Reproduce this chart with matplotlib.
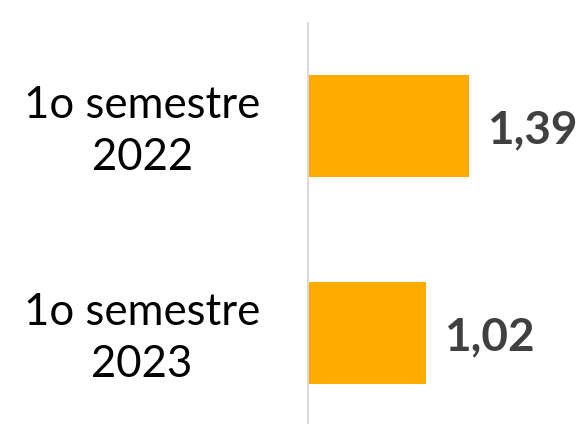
import matplotlib
matplotlib.use("Agg")
import matplotlib.pyplot as plt
import matplotlib.transforms as mtransforms

categories = ["1o semestre\n2023", "1o semestre\n2022"]
values = [1.02, 1.39]
value_labels = ["1,02", "1,39"]

W, H, DPI = 584, 424, 100
fig = plt.figure(figsize=(W / DPI, H / DPI), dpi=DPI)
left = 307.5 / W
top = 1 - 23 / H
ax = fig.add_axes([left, 0.0, 1 - left, top])

pos = list(range(len(categories)))
ax.barh(pos, values, height=0.493, color="#FFAA00")
ax.set_xlim(0, 276.5 / 116.2)
ax.set_ylim(-91 / 207, 1 + 103 / 207)

for p, v, lab in zip(pos, values, value_labels):
    ax.annotate(lab, xy=(v, p), xytext=(13, -3), textcoords="offset points",
                ha="left", va="center", fontsize=33, fontweight="bold",
                color="#404040", family="Lato")

ax.set_yticks(pos)
ax.set_yticklabels(categories, fontsize=31.5, family="Lato", color="black",
                   multialignment="center", linespacing=1.32)
ax.tick_params(axis="y", length=0, pad=34)
shift = mtransforms.ScaledTranslation(0, 4 / DPI, fig.dpi_scale_trans)
for t in ax.get_yticklabels():
    t.set_transform(t.get_transform() + shift)
ax.set_xticks([])
for s in ["top", "right", "bottom"]:
    ax.spines[s].set_visible(False)
ax.spines["left"].set_color("#D9D9D9")
ax.spines["left"].set_linewidth(1.4)
ax.patch.set_alpha(0)

fig.savefig("out.png", dpi=DPI)
